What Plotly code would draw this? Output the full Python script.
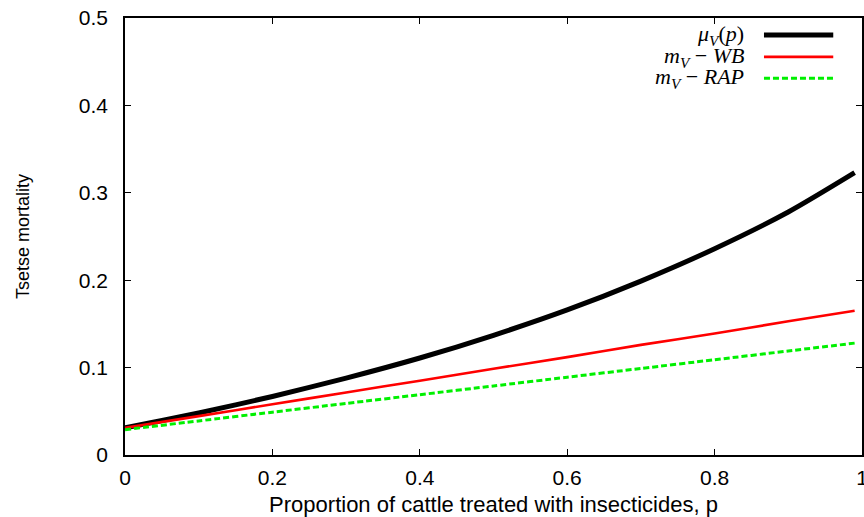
import plotly.graph_objects as go

# Proportion of cattle treated with insecticides
p = [0.0, 0.1, 0.2, 0.3, 0.4, 0.5, 0.6, 0.7, 0.8, 0.9, 0.99]

# Tsetse mortality for each model
mu_v = [0.031, 0.048, 0.067, 0.088, 0.111, 0.137, 0.166, 0.199, 0.236, 0.278, 0.323]
m_v_wb = [0.031, 0.0445, 0.058, 0.0716, 0.085, 0.0987, 0.112, 0.126, 0.139, 0.153, 0.165]
m_v_rap = [0.029, 0.039, 0.049, 0.059, 0.069, 0.079, 0.089, 0.099, 0.109, 0.119, 0.128]

series_names = [
    "<i>μ</i><sub><i>V</i></sub>(<i>p</i>)",
    "<i>m</i><sub><i>V</i></sub> − <i>WB</i>",
    "<i>m</i><sub><i>V</i></sub> − <i>RAP</i>",
]
series_values = [mu_v, m_v_wb, m_v_rap]
series_styles = [
    dict(color="#000000", width=5, dash="solid"),
    dict(color="#ff0000", width=2.6, dash="solid"),
    dict(color="#00f000", width=3, dash="6px,3px"),
]

x_ticks = [0, 0.2, 0.4, 0.6, 0.8, 1]
x_ticktext = ["0", "0.2", "0.4", "0.6", "0.8", "1"]
y_ticks = [0, 0.1, 0.2, 0.3, 0.4, 0.5]
y_ticktext = ["0", "0.1", "0.2", "0.3", "0.4", "0.5"]

fig = go.Figure()
for name, vals, style in zip(series_names, series_values, series_styles):
    fig.add_trace(go.Scatter(x=p, y=vals, mode="lines", name=name,
                             line=dict(shape="spline", smoothing=0.7, **style),
                             showlegend=False))

# Legend: label text on the left, line sample on the right
key_rows = [0.961, 0.911, 0.862]
for name, style, ky in zip(series_names, series_styles, key_rows):
    fig.add_shape(type="line", xref="paper", yref="paper",
                  x0=0.867, x1=0.961, y0=ky, y1=ky, line=style)
    fig.add_annotation(xref="paper", yref="paper", x=0.842, y=ky,
                       xanchor="right", yanchor="middle", text=name,
                       showarrow=False,
                       font=dict(family="Liberation Serif", size=22, color="#000"))

axis_common = dict(
    showline=True, linecolor="#000", linewidth=1.6, mirror="ticks",
    ticks="inside", ticklen=6, tickwidth=1, tickcolor="#000",
    showgrid=False, zeroline=False, automargin=False,
    tickfont=dict(family="Liberation Sans", size=21, color="#000"),
)

fig.update_xaxes(range=[0, 1], tickvals=x_ticks, ticktext=x_ticktext,
                 ticklabeloverflow="allow", ticklabelstandoff=3,
                 title=dict(text="Proportion of cattle treated with insecticides, p",
                            font=dict(family="Liberation Sans", size=22, color="#000"),
                            standoff=14),
                 **axis_common)
fig.update_yaxes(range=[0, 0.5], tickvals=y_ticks, ticktext=y_ticktext,
                 ticklabeloverflow="allow", ticklabelstandoff=11,
                 title=dict(text="Tsetse mortality",
                            font=dict(family="Liberation Sans", size=18, color="#000"),
                            standoff=44),
                 **axis_common)

fig.update_layout(
    width=864, height=517,
    margin=dict(l=125, r=2, t=18, b=62),
    paper_bgcolor="white", plot_bgcolor="white",
)

fig.write_html("out.html")
